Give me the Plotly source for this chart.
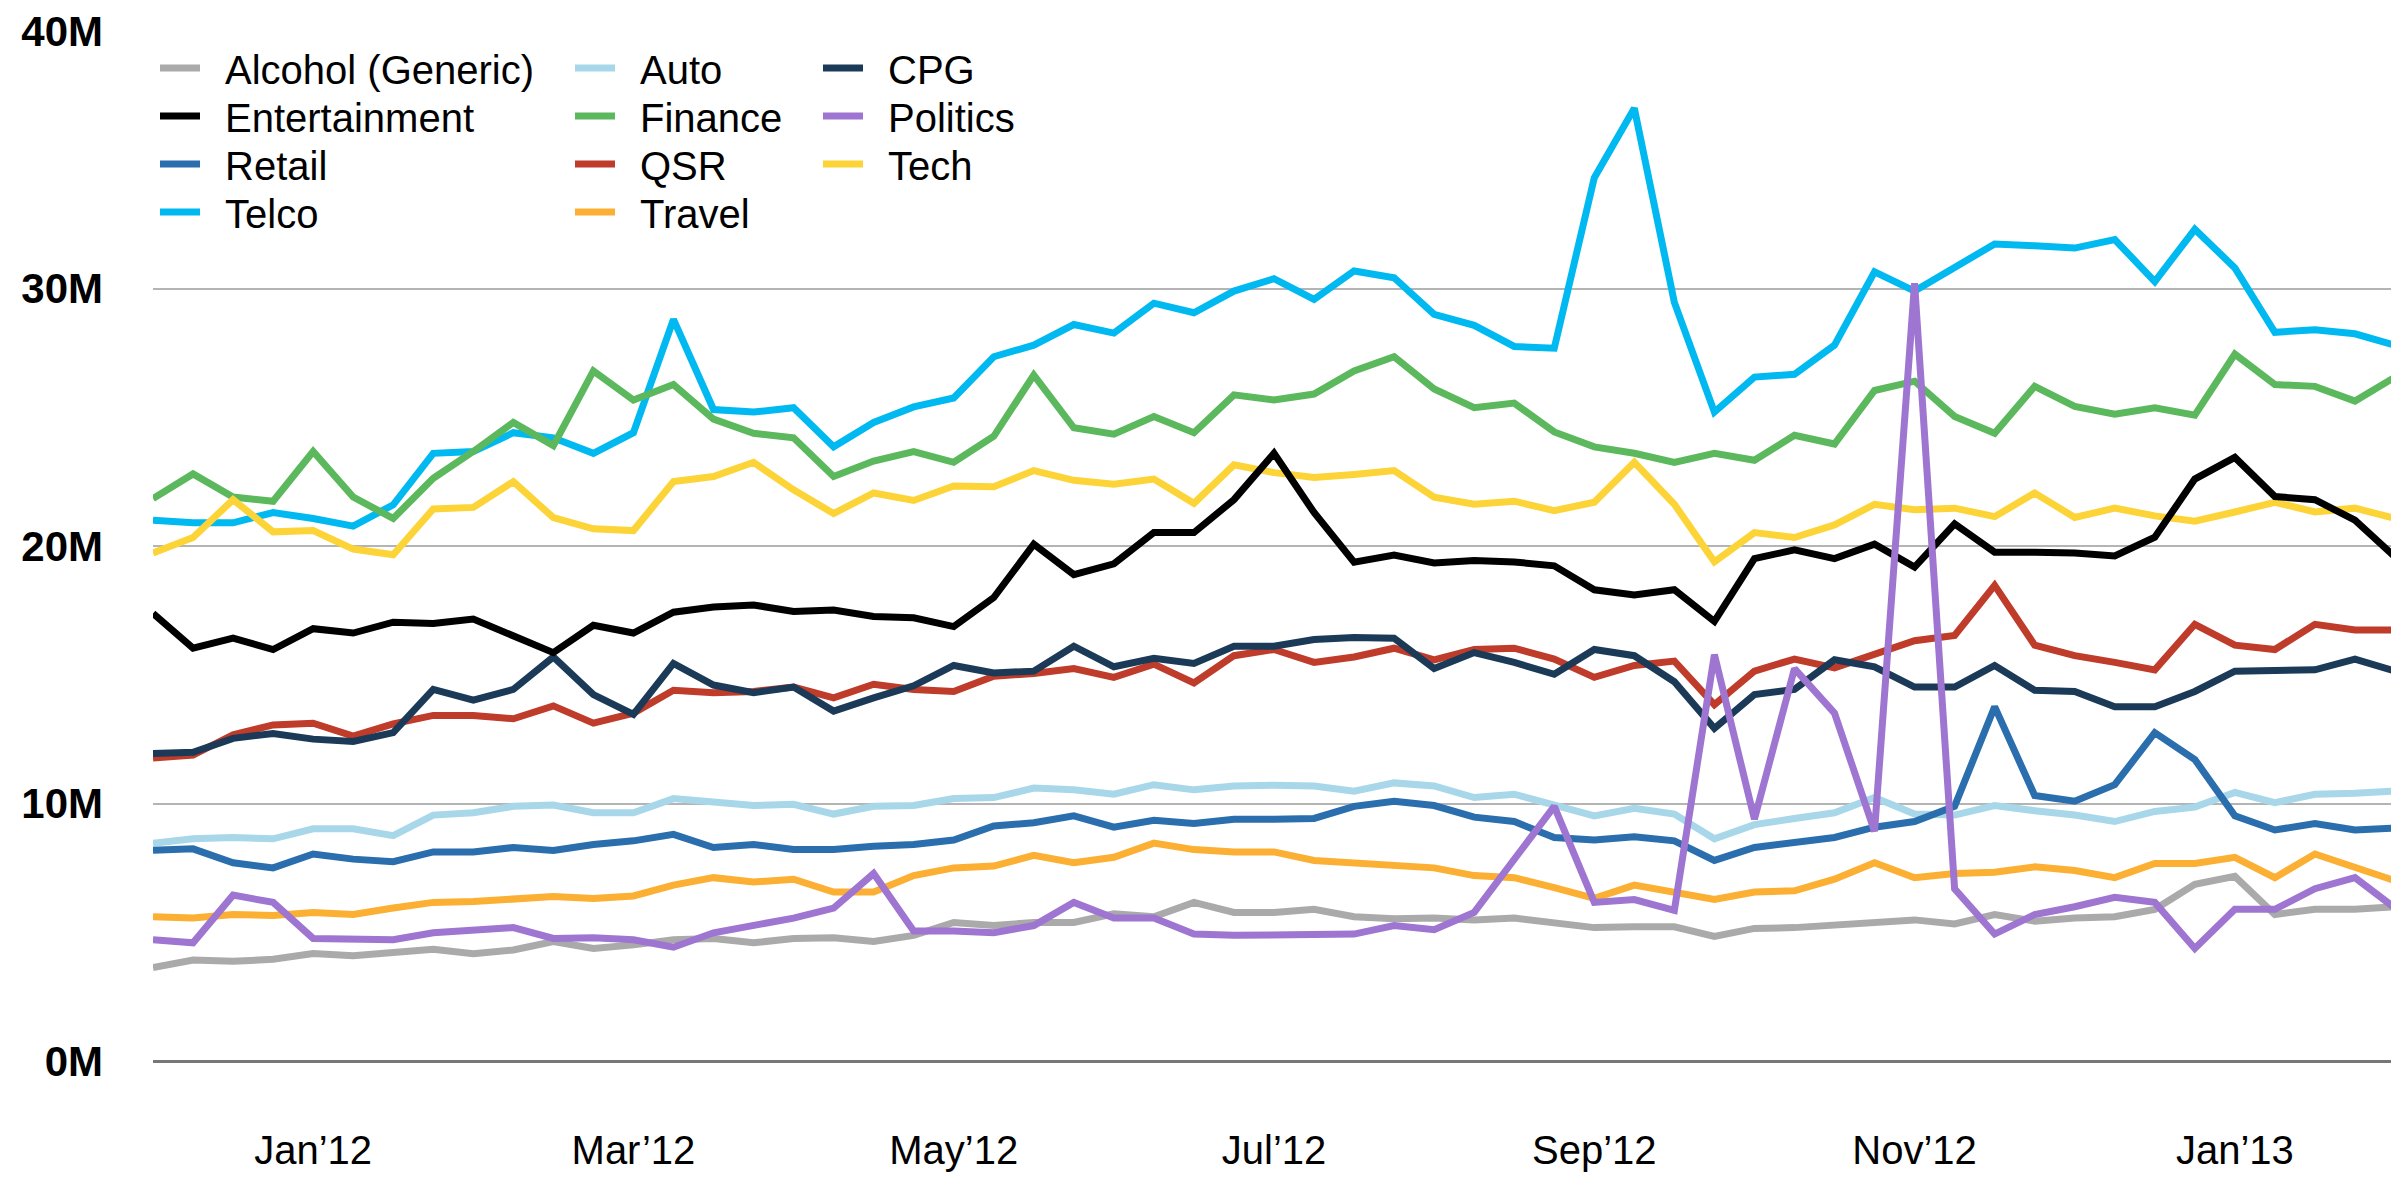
import plotly.graph_objects as go

weeks = list(range(57))
tick_pos = [4, 12, 20, 28, 36, 44, 52]
tick_text = ["Jan’12", "Mar’12", "May’12", "Jul’12", "Sep’12", "Nov’12", "Jan’13"]
y_tick_vals = [0, 10, 20, 30, 40]
y_tick_text = ["0M", "10M", "20M", "30M", "40M"]

telco = [21.0, 20.9, 20.9, 21.3, 21.07, 20.77, 21.6, 23.6, 23.67, 24.4, 24.2, 23.6, 24.4, 28.8, 25.3, 25.2, 25.37,
         23.85, 24.8, 25.4, 25.75, 27.35, 27.8, 28.6, 28.27, 29.43, 29.06, 29.9, 30.38, 29.58, 30.68, 30.42, 29.0, 28.57, 27.75, 27.68, 34.3,
         37.0, 29.46, 25.2, 26.56, 26.67, 27.8, 30.65, 29.9, 30.8, 31.73, 31.66, 31.57, 31.9, 30.27, 32.3, 30.8, 28.3, 28.4, 28.24, 27.8]
finance = [21.84, 22.8, 21.9, 21.74, 23.67, 21.9, 21.07, 22.63, 23.67, 24.8, 23.9, 26.8, 25.67, 26.27, 24.93, 24.38, 24.2,
           22.7, 23.3, 23.67, 23.25, 24.26, 26.64, 24.59, 24.34, 25.03, 24.4, 25.87, 25.67, 25.9, 26.8, 27.35, 26.1, 25.37, 25.55, 24.43, 23.85,
           23.6, 23.25, 23.6, 23.33, 24.3, 23.96, 26.04, 26.4, 25.03, 24.38, 26.2, 25.42, 25.12, 25.37, 25.08, 27.45, 26.27, 26.2, 25.63, 26.56]
tech = [19.73, 20.33, 21.8, 20.55, 20.6, 19.88, 19.66, 21.44, 21.5, 22.5, 21.1, 20.67, 20.6, 22.5, 22.7, 23.25, 22.18,
        21.26, 22.06, 21.77, 22.33, 22.3, 22.93, 22.55, 22.4, 22.6, 21.66, 23.15, 22.85, 22.66, 22.78, 22.93, 21.9, 21.62, 21.74, 21.37, 21.7,
        23.25, 21.62, 19.39, 20.52, 20.33, 20.82, 21.62, 21.41, 21.47, 21.14, 22.06, 21.11, 21.47, 21.17, 20.96, 21.32, 21.7, 21.32, 21.47, 21.07]
entertainment = [17.38, 16.03, 16.42, 15.98, 16.79, 16.62, 17.04, 16.99, 17.16, 16.53, 15.86, 16.92, 16.62, 17.43, 17.63, 17.71, 17.46,
                 17.51, 17.26, 17.21, 16.87, 18.0, 20.07, 18.89, 19.31, 20.52, 20.52, 21.8, 23.6, 21.3, 19.37, 19.65, 19.34, 19.44, 19.38, 19.23, 18.3,
                 18.1, 18.3, 17.07, 19.51, 19.85, 19.51, 20.07, 19.18, 20.86, 19.76, 19.76, 19.73, 19.61, 20.34, 22.6, 23.44, 21.92, 21.8, 21.0, 19.58]
qsr = [11.77, 11.88, 12.67, 13.05, 13.12, 12.62, 13.09, 13.42, 13.42, 13.29, 13.79, 13.12, 13.51, 14.4, 14.3, 14.35, 14.52,
       14.1, 14.63, 14.43, 14.35, 14.94, 15.05, 15.24, 14.9, 15.41, 14.68, 15.74, 15.98, 15.48, 15.69, 16.03, 15.58, 15.98, 16.03, 15.61, 14.9,
       15.36, 15.53, 13.84, 15.14, 15.61, 15.27, 15.78, 16.32, 16.53, 18.47, 16.15, 15.74, 15.48, 15.19, 16.96, 16.15, 15.98, 16.96, 16.74, 16.74]
cpg = [11.94, 11.99, 12.53, 12.72, 12.5, 12.41, 12.75, 14.43, 14.01, 14.43, 15.69, 14.23, 13.46, 15.44, 14.6, 14.3, 14.52,
       13.59, 14.1, 14.57, 15.36, 15.07, 15.14, 16.11, 15.31, 15.64, 15.44, 16.11, 16.11, 16.37, 16.45, 16.42, 15.24, 15.86, 15.48, 15.02, 15.98,
       15.74, 14.73, 12.92, 14.23, 14.43, 15.58, 15.31, 14.52, 14.52, 15.36, 14.4, 14.35, 13.76, 13.76, 14.35, 15.14, 15.14, 15.19, 15.61, 15.14]
auto = [8.46, 8.63, 8.68, 8.63, 9.02, 9.02, 8.75, 9.55, 9.64, 9.89, 9.94, 9.64, 9.64, 10.19, 10.06, 9.92, 9.97,
        9.59, 9.89, 9.92, 10.19, 10.23, 10.6, 10.53, 10.36, 10.73, 10.53, 10.68, 10.71, 10.68, 10.48, 10.8, 10.68, 10.23, 10.36, 9.97, 9.52,
        9.81, 9.59, 8.63, 9.18, 9.42, 9.64, 10.23, 9.59, 9.55, 9.92, 9.72, 9.55, 9.3, 9.69, 9.86, 10.43, 10.03, 10.36, 10.4, 10.48]
retail = [8.18, 8.24, 7.7, 7.5, 8.04, 7.84, 7.74, 8.12, 8.12, 8.29, 8.18, 8.41, 8.55, 8.8, 8.29, 8.41, 8.21,
          8.21, 8.34, 8.41, 8.58, 9.13, 9.25, 9.52, 9.08, 9.35, 9.22, 9.39, 9.39, 9.42, 9.89, 10.09, 9.92, 9.47, 9.3, 8.68, 8.58,
          8.71, 8.55, 7.79, 8.29, 8.46, 8.68, 9.08, 9.3, 9.89, 13.76, 10.31, 10.09, 10.73, 12.75, 11.71, 9.52, 8.97, 9.22, 8.97, 9.05]
travel = [5.6, 5.55, 5.69, 5.65, 5.77, 5.69, 5.94, 6.16, 6.19, 6.31, 6.39, 6.31, 6.41, 6.83, 7.12, 6.95, 7.06,
          6.56, 6.56, 7.2, 7.5, 7.57, 7.99, 7.7, 7.91, 8.46, 8.21, 8.12, 8.12, 7.79, 7.7, 7.65, 7.5, 7.2, 7.12, 6.73, 6.32,
          6.83, 6.53, 6.27, 6.56, 6.61, 7.06, 7.7, 7.12, 7.28, 7.33, 7.54, 7.4, 7.12, 7.67, 7.67, 7.91, 7.12, 8.04, 7.5, 7.0]
politics = [4.71, 4.59, 6.44, 6.16, 4.76, 4.76, 4.71, 4.98, 5.1, 5.18, 4.76, 4.79, 4.71, 4.42, 4.98, 5.26, 5.55,
            5.94, 7.28, 5.05, 5.05, 4.98, 5.26, 6.16, 5.55, 5.55, 4.93, 4.88, 4.88, 4.88, 4.93, 5.26, 5.1, 5.77, 7.84, 9.89, 6.16,
            6.27, 5.85, 15.78, 9.39, 15.24, 13.51, 8.92, 30.2, 6.69, 4.93, 5.69, 5.99, 6.36, 6.16, 4.37, 5.89, 5.89, 6.69, 7.12, 5.94]
alcohol = [3.63, 3.92, 3.87, 3.95, 4.17, 4.09, 4.21, 4.34, 4.17, 4.31, 4.64, 4.37, 4.51, 4.71, 4.76, 4.59, 4.76,
           4.79, 4.64, 4.88, 5.38, 5.26, 5.38, 5.38, 5.72, 5.6, 6.16, 5.77, 5.77, 5.89, 5.6, 5.52, 5.55, 5.48, 5.55, 5.38, 5.18,
           5.21, 5.21, 4.84, 5.15, 5.18, 5.26, 5.35, 5.48, 5.32, 5.69, 5.43, 5.55, 5.6, 5.89, 6.86, 7.17, 5.69, 5.89, 5.89, 5.99]

# (name, values, colour, legend column, legend row) in drawing order
series = [
    ("Telco", telco, "#00b9f1", 0, 3),
    ("Finance", finance, "#5cb85c", 1, 1),
    ("Tech", tech, "#fdd438", 2, 2),
    ("Auto", auto, "#a8d7e9", 1, 0),
    ("Retail", retail, "#2a6ead", 0, 2),
    ("Travel", travel, "#fbb034", 1, 3),
    ("Alcohol (Generic)", alcohol, "#aaaaaa", 0, 0),
    ("QSR", qsr, "#bf3b2a", 1, 2),
    ("CPG", cpg, "#1b3a58", 2, 0),
    ("Entertainment", entertainment, "#000000", 0, 1),
    ("Politics", politics, "#9e75d0", 2, 1),
]

W, H = 2399, 1179
ML, MR, MT, MB = 145, 12, 23, 126
PW, PH = W - ML - MR, H - MT - MB
col_px = [147, 562, 810]
row_px = [60, 108, 156, 204]
FONT = "Liberation Sans, Arial, sans-serif"

fig = go.Figure()
layout_legends = {}
for k, (name, vals, color, col, row) in enumerate(series):
    key = "legend" if k == 0 else f"legend{k + 1}"
    fig.add_trace(go.Scatter(
        x=weeks, y=vals, name="\u2002" + name, mode="lines",
        line=dict(color=color, width=7),
        legend=key,
        hovertemplate="%{y:.1f}M<extra>" + name + "</extra>",
    ))
    layout_legends[key] = dict(
        xref="paper", yref="paper",
        x=(col_px[col] - ML) / PW, y=(H - MB - row_px[row]) / PH,
        xanchor="left", yanchor="middle",
        bgcolor="rgba(0,0,0,0)", borderwidth=0,
        font=dict(family=FONT, size=40, color="#000000"),
        itemwidth=40,
    )

fig.update_layout(
    width=W, height=H,
    margin=dict(l=ML, r=MR, t=MT, b=MB, autoexpand=False),
    plot_bgcolor="white", paper_bgcolor="white",
    showlegend=True,
    xaxis=dict(
        range=[0, 56], showgrid=False, zeroline=False, showline=False,
        tickmode="array", tickvals=tick_pos, ticktext=tick_text,
        ticks="", ticklabelstandoff=62, ticklabeloverflow="allow",
        tickfont=dict(family=FONT, size=40, color="#000000"),
    ),
    yaxis=dict(
        range=[0, 40], tickmode="array", tickvals=y_tick_vals, ticktext=y_tick_text,
        showgrid=True, gridcolor="#b4b4b4", gridwidth=2,
        zeroline=True, zerolinecolor="#777777", zerolinewidth=3,
        showline=False, ticks="", ticklabelstandoff=49, ticklabeloverflow="allow",
        tickfont=dict(family=FONT, size=42, color="#000000", weight="bold"),
    ),
    **layout_legends,
)

fig.write_html("out.html")
